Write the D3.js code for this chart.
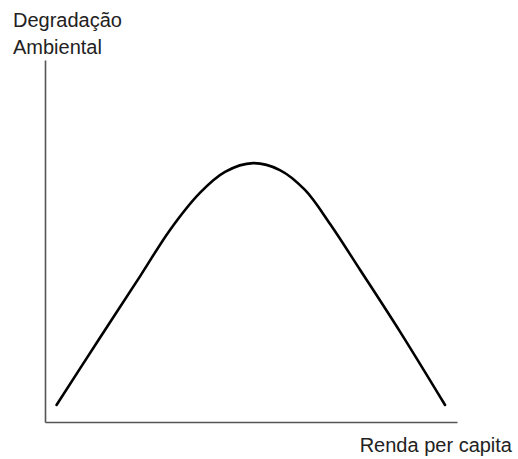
<!DOCTYPE html>
<html>
<head>
<meta charset="utf-8">
<script src="https://cdn.jsdelivr.net/npm/d3@7"></script>
<style>
  body { margin: 0; background: #fff; }
  svg { display: block; }
  .label { font-family: Arial, "Liberation Sans", sans-serif; font-size: 20px; fill: #222; }
</style>
</head>
<body>
<svg id="chart"></svg>
<script>
// Chart size
const width = 518;
const height = 459;
const margin = { top: 60, right: 61, bottom: 37, left: 45 };

// Curve values (renda per capita, degradação ambiental)
const renda = [2.8, 13.3, 23.1, 30.3, 37.6, 43.7, 50.5,
               57.0, 63.1, 69.2, 76.5, 86.2, 97.1];
const degradacao = [4.7, 23.2, 40.3, 53.0, 63.3, 69.1, 71.5,
                    69.6, 64.1, 54.7, 42.0, 24.9, 4.7];

// Axis labels
const yLabel = ["Degradação", "Ambiental"];
const xLabel = "Renda per capita";

const svg = d3.select("#chart")
  .attr("width", width)
  .attr("height", height);

const x = d3.scaleLinear()
  .domain([0, 100])
  .range([margin.left, width - margin.right]);

const y = d3.scaleLinear()
  .domain([0, 100])
  .range([height - margin.bottom, margin.top]);

// Axes without ticks, only the lines
svg.append("g")
  .attr("transform", "translate(0," + (height - margin.bottom) + ")")
  .call(d3.axisBottom(x).ticks(0).tickSizeOuter(0));

svg.append("g")
  .attr("transform", "translate(" + margin.left + ",0)")
  .call(d3.axisLeft(y).ticks(0).tickSizeOuter(0));

svg.selectAll(".domain")
  .attr("stroke", "#555")
  .attr("stroke-width", 1.6);

// The curve
const points = renda.map((r, i) => ({ r: r, d: degradacao[i] }));

const line = d3.line()
  .x((d) => x(d.r))
  .y((d) => y(d.d))
  .curve(d3.curveCatmullRom.alpha(0.5));

svg.append("path")
  .datum(points)
  .attr("fill", "none")
  .attr("stroke", "#000")
  .attr("stroke-width", 2.6)
  .attr("stroke-linecap", "round")
  .attr("d", line);

// Labels
svg.append("text")
  .attr("class", "label")
  .attr("x", 13)
  .attr("y", 27)
  .selectAll("tspan")
  .data(yLabel)
  .enter()
  .append("tspan")
  .attr("x", 13)
  .attr("dy", (d, i) => i === 0 ? 0 : 27)
  .text((d) => d);

svg.append("text")
  .attr("class", "label")
  .attr("x", 512)
  .attr("y", 452)
  .attr("text-anchor", "end")
  .text(xLabel);
</script>
</body>
</html>
